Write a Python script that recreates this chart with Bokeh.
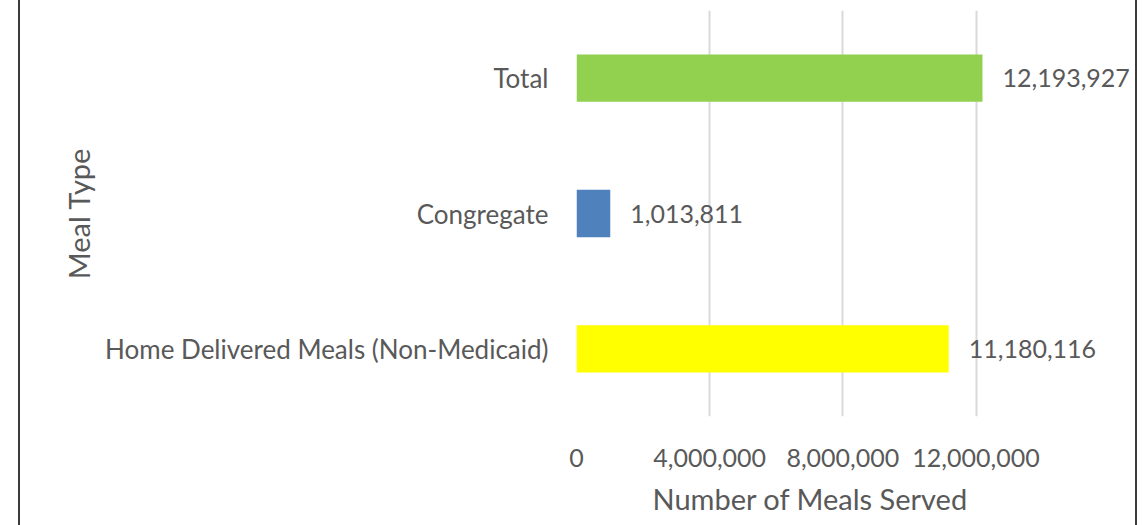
from bokeh.plotting import figure
from bokeh.models import ColumnDataSource, FixedTicker, NumeralTickFormatter, Range1d, FactorRange, Title
from bokeh.core.properties import value
from bokeh.embed import file_html
from bokeh.resources import INLINE

categories = ["Home Delivered Meals (Non-Medicaid)", "Congregate", "Total"]
meals = [11180116, 1013811, 12193927]
colors = ["#FFFF00", "#4F81BD", "#92D050"]
x_ticks = [0, 4000000, 8000000, 12000000]
x_max = 16760000

labels = [f"{v:,}" for v in meals]
src = ColumnDataSource(dict(cat=categories, val=meals, color=colors, label=labels))

FONT = "Lato"
TXT = "#595959"

p = figure(
    width=1119, height=525,
    y_range=FactorRange(*categories),
    x_range=Range1d(0, x_max),
    output_backend="svg", toolbar_location=None,
    min_border_left=556, min_border_right=5, min_border_top=10, min_border_bottom=97,
)
p.styles = {"margin-left": "18px",
            "border-left": "2px solid #3a3a3a", "border-right": "2px solid #3a3a3a"}

p.hbar(y="cat", left=0, right="val", height=0.35, color="color", line_color=None, source=src)
p.text(x="val", y="cat", text="label", source=src, x_offset=20, text_baseline="middle",
       text_align="left", text_font=value(FONT), text_font_size="25px", text_color=TXT)

p.outline_line_color = None
p.ygrid.grid_line_color = None
p.xgrid.grid_line_color = "#D9D9D9"
p.xgrid.grid_line_width = 2
p.xgrid.ticker = FixedTicker(ticks=x_ticks)

p.xaxis.ticker = FixedTicker(ticks=x_ticks)
p.xaxis.formatter = NumeralTickFormatter(format="0,0")
for ax in (p.xaxis[0], p.yaxis[0]):
    ax.axis_line_color = None
    ax.major_tick_line_color = None
    ax.minor_tick_line_color = None
    ax.major_label_text_font = FONT
    ax.major_label_text_color = TXT
    ax.axis_label_text_font = FONT
    ax.axis_label_text_font_size = "29px"
    ax.axis_label_text_color = TXT
    ax.axis_label_text_font_style = "normal"

p.xaxis.major_label_text_font_size = "25px"
p.yaxis.major_label_text_font_size = "26px"
p.xaxis.major_label_standoff = 26
p.yaxis.axis_label = "Meal Type"
p.yaxis.major_label_standoff = 22
p.yaxis.axis_label_standoff = 6

xtitle = Title(text="Number of Meals Served", align="left", offset=76, standoff=19,
               text_font=FONT, text_font_size="29px", text_color=TXT,
               text_font_style="normal")
p.add_layout(xtitle, "below")

open("out.html", "w").write(file_html(p, INLINE))
